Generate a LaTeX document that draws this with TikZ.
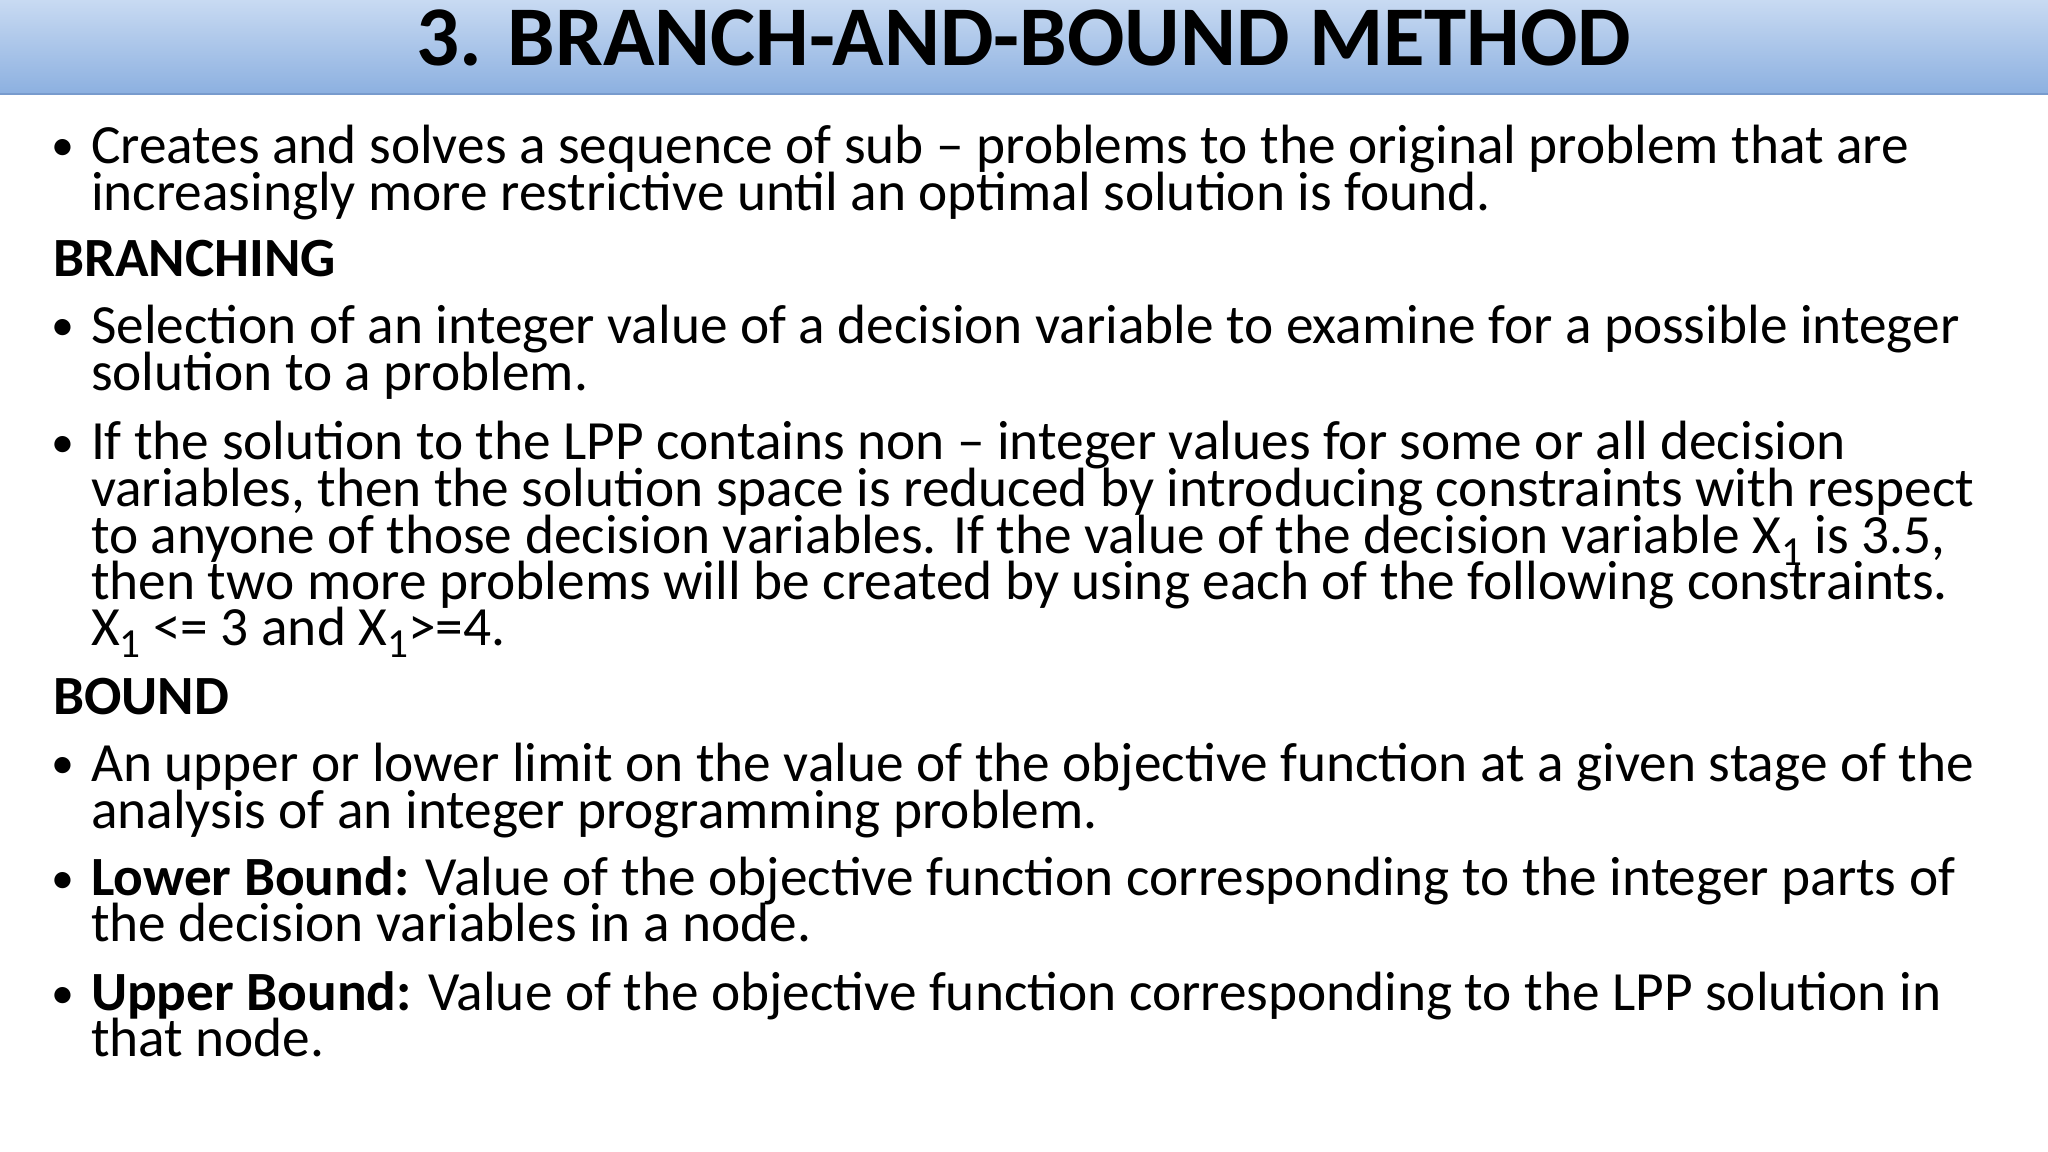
\documentclass[tikz,border=0pt]{standalone}
\usepackage{fontspec}
\setmainfont{Carlito}
\newcommand{\sbs}[1]{\raisebox{-0.45ex}{\fontsize{9pt}{9pt}\selectfont #1}}
\begin{document}
\begin{tikzpicture}[x=0.01cm,y=-0.01cm,
  ln/.style={anchor=base west,inner sep=0pt,font=\fontsize{12.05pt}{13pt}\selectfont},
  hd/.style={ln,font=\fontsize{12.05pt}{13pt}\selectfont\bfseries},
  bl/.style={anchor=base west,inner sep=0pt,font=\fontsize{10pt}{12pt}\selectfont}]
\useasboundingbox (0,0) rectangle (1568,882);
\fill[white] (0,0) rectangle (1568,882);
\shade[top color={rgb,255:red,200;green,218;blue,242},bottom color={rgb,255:red,140;green,176;blue,224}] (0,0) rectangle (1568,72);
\draw[color={rgb,255:red,120;green,155;blue,205},line width=0.6pt] (0,72) -- (1568,72);
\node[anchor=base,inner sep=0pt,font=\fontsize{18.5pt}{20pt}\selectfont\bfseries] (title) at (784,50) {3. BRANCH-AND-BOUND METHOD};
\foreach \n/\y in {b1/123,b2/261,b3/350,b4/596,b5/684,b6/772}
  \node[bl] (\n) at (39,\y) {•};
\node[ln] (l1) at (69,125) {Creates and solves a sequence of sub – problems to the original problem that are};
\node[ln] (l2) at (69,161) {increasingly more restrictive until an optimal solution is found.};
\node[hd] (h1) at (40,212) {BRANCHING};
\node[ln] (l3) at (69,263) {Selection of an integer value of a decision variable to examine for a possible integer};
\node[ln] (l4) at (69,299) {solution to a problem.};
\node[ln] (l5) at (69,352) {If the solution to the LPP contains non – integer values for some or all decision};
\node[ln] (l6) at (69,388) {variables, then the solution space is reduced by introducing constraints with respect};
\node[ln] (l7) at (69,424) {to anyone of those decision variables. If the value of the decision variable X\sbs{1} is 3.5,};
\node[ln] (l8) at (69,459) {then two more problems will be created by using each of the following constraints.};
\node[ln] (l9) at (69,494) {X\sbs{1} <= 3 and X\sbs{1}>=4.};
\node[hd] (h2) at (40,547) {BOUND};
\node[ln] (l10) at (69,598) {An upper or lower limit on the value of the objective function at a given stage of the};
\node[ln] (l11) at (69,634) {analysis of an integer programming problem.};
\node[ln] (l12) at (69,686) {\textbf{Lower Bound:} Value of the objective function corresponding to the integer parts of};
\node[ln] (l13) at (69,721) {the decision variables in a node.};
\node[ln] (l14) at (69,774) {\textbf{Upper Bound:} Value of the objective function corresponding to the LPP solution in};
\node[ln] (l15) at (69,809) {that node.};
\end{tikzpicture}
\end{document}
